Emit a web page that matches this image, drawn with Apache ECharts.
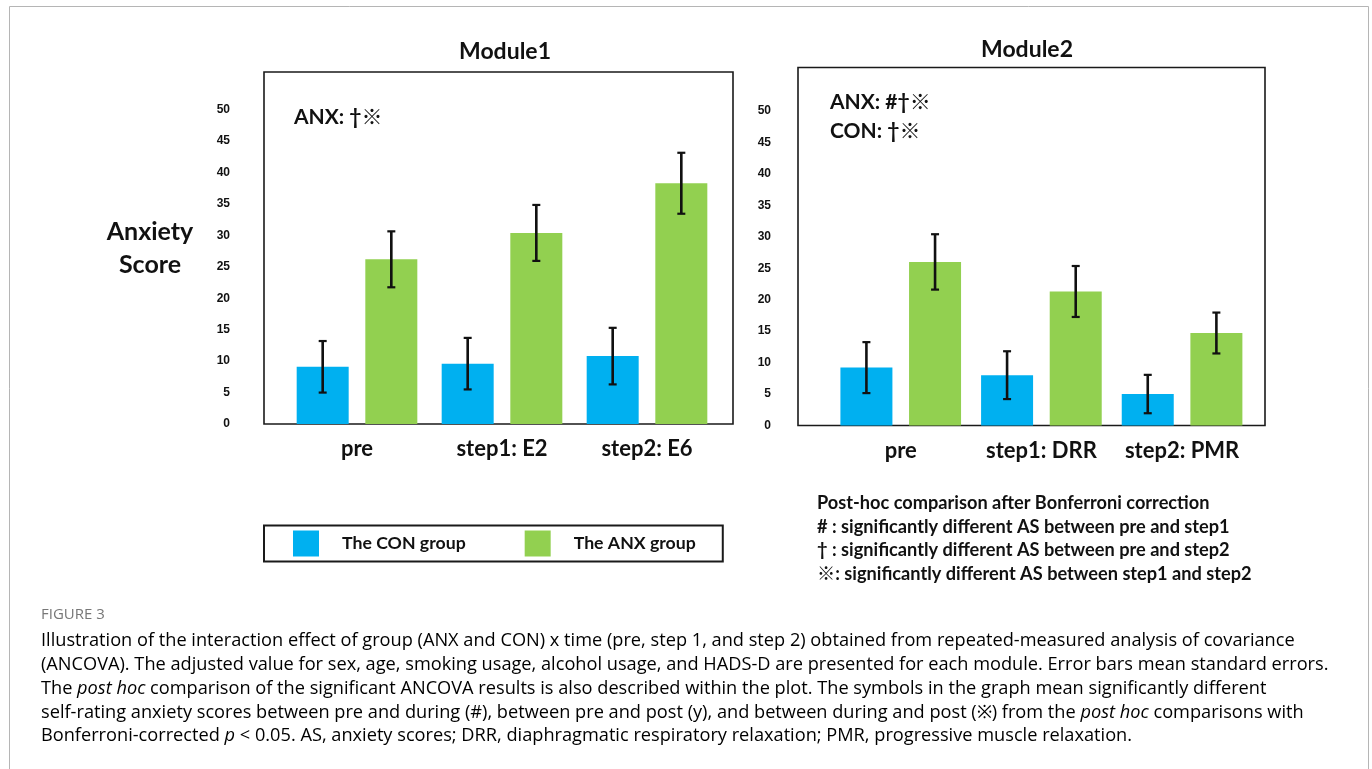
<!DOCTYPE html>
<html>
<head>
<meta charset="utf-8">
<script src="https://cdn.jsdelivr.net/npm/echarts@6/dist/echarts.min.js"></script>
<style>
  html, body { margin: 0; padding: 0; background: #fff; }
  #chart { width: 1372px; height: 769px; }
</style>
</head>
<body>
<div id="chart"></div>
<script>
// ---------- data ----------
const groupNames = ['The CON group', 'The ANX group'];
const module1Categories = ['pre', 'step1: E2', 'step2: E6'];
const module2Categories = ['pre', 'step1: DRR', 'step2: PMR'];

const m1ConMean = [9.1, 9.6, 10.8];
const m1ConSE   = [4.1, 4.1, 4.5];
const m1AnxMean = [26.2, 30.4, 38.3];
const m1AnxSE   = [4.45, 4.45, 4.85];

const m2ConMean = [9.2, 8.0, 5.0];
const m2ConSE   = [4.05, 3.8, 3.05];
const m2AnxMean = [26.0, 21.3, 14.7];
const m2AnxSE   = [4.4, 4.05, 3.25];

const yTicksShownMax = 50;
const module1Title = 'Module1';
const module2Title = 'Module2';
const m1Notes = ['ANX: \u2020\u203B'];
const m2Notes = ['ANX: #\u2020\u203B', 'CON: \u2020\u203B'];
const postHocLines = [
  'Post-hoc comparison after Bonferroni correction',
  '# : significantly different AS between pre and step1',
  '\u2020 : significantly different AS between pre and step2',
  '\u203B: significantly different AS between step1 and step2'
];

// ---------- styles ----------
const CON_COLOR = '#00B0F0';
const ANX_COLOR = '#92D050';
const BAR_W = 52;
const BAR_GAP = 0.32;
const OFFSET = BAR_W * (1 + BAR_GAP) / 2;
const FONT = 'Lato, "Noto Sans CJK JP", sans-serif';

function errData(mean, se) {
  return mean.map((m, i) => [i, +(m - se[i]).toFixed(2), +(m + se[i]).toFixed(2)]);
}

function errRender(offset) {
  return function (params, api) {
    const i = api.value(0);
    const lo = api.coord([i, api.value(1)]);
    const hi = api.coord([i, api.value(2)]);
    const cx = lo[0] + offset;
    const cap = 4;
    return {
      type: 'group',
      children: [
        { type: 'line', shape: { x1: cx, y1: hi[1], x2: cx, y2: lo[1] }, style: { stroke: '#111', lineWidth: 2.6 } },
        { type: 'line', shape: { x1: cx - cap, y1: hi[1], x2: cx + cap, y2: hi[1] }, style: { stroke: '#111', lineWidth: 2.2 } },
        { type: 'line', shape: { x1: cx - cap, y1: lo[1], x2: cx + cap, y2: lo[1] }, style: { stroke: '#111', lineWidth: 2.2 } }
      ]
    };
  };
}

function valueAxis(gridIndex, max, margin, show) {
  return {
    type: 'value', gridIndex, min: 0, max, interval: 5, show,
    axisLine: { show: false }, axisTick: { show: false }, splitLine: { show: false },
    axisLabel: {
      show, margin, color: '#111', fontFamily: '"Liberation Sans", Arial, sans-serif',
      fontWeight: 'bold', fontSize: 12,
      formatter: v => (v <= yTicksShownMax ? String(v) : '')
    }
  };
}

function catAxis(gridIndex, data, show) {
  return {
    type: 'category', gridIndex, data, show,
    axisLine: { show: false }, axisTick: { show: false },
    axisLabel: { show, interval: 0, hideOverlap: false, margin: 14, color: '#111', fontFamily: FONT, fontWeight: 'bold', fontSize: 22 }
  };
}

const chart = echarts.init(document.getElementById('chart'), null, { renderer: 'canvas' });

const CAP_FS = 18.2;
const captionRich = {
  n: { fontFamily: '"Open Sans", sans-serif', fontSize: CAP_FS, color: '#666' },
  i: { fontFamily: '"Open Sans", sans-serif', fontSize: CAP_FS, color: '#666', fontStyle: 'italic' }
};
const captionLines = [
  '{n|Illustration of the interaction effect of group (ANX and CON) x time (pre, step 1, and step 2) obtained from repeated-measured analysis of covariance}',
  '{n|(ANCOVA). The adjusted value for sex, age, smoking usage, alcohol usage, and HADS-D are presented for each module. Error bars mean standard errors.}',
  '{n|The }{i|post hoc}{n| comparison of the significant ANCOVA results is also described within the plot. The symbols in the graph mean significantly different}',
  '{n|self-rating anxiety scores between pre and during (#), between pre and post (y), and between during and post (\u203B) from the }{i|post hoc}{n| comparisons with}',
  '{n|Bonferroni-corrected }{i|p}{n| < 0.05. AS, anxiety scores; DRR, diaphragmatic respiratory relaxation; PMR, progressive muscle relaxation.}'
];

const graphics = [
  { type: 'rect', shape: { x: 9.5, y: 6.5, width: 1359, height: 900 }, style: { fill: 'none', stroke: '#b5b5b5', lineWidth: 1 }, z: -10 },
  { type: 'text', x: 505, y: 52, style: { text: module1Title, font: 'bold 23px ' + FONT, fill: '#111', textAlign: 'center', textVerticalAlign: 'middle' } },
  { type: 'text', x: 1027, y: 50, style: { text: module2Title, font: 'bold 23px ' + FONT, fill: '#111', textAlign: 'center', textVerticalAlign: 'middle' } },
  { type: 'text', x: 150, y: 232, style: { text: 'Anxiety', font: 'bold 25px ' + FONT, fill: '#111', textAlign: 'center', textVerticalAlign: 'middle' } },
  { type: 'text', x: 150, y: 265, style: { text: 'Score', font: 'bold 25px ' + FONT, fill: '#111', textAlign: 'center', textVerticalAlign: 'middle' } },
  { type: 'text', x: 294, y: 117, style: { text: m1Notes[0], font: 'bold 21px ' + FONT, fill: '#111', textAlign: 'left', textVerticalAlign: 'middle' } },
  { type: 'text', x: 830, y: 102, style: { text: m2Notes[0], font: 'bold 21px ' + FONT, fill: '#111', textAlign: 'left', textVerticalAlign: 'middle' } },
  { type: 'text', x: 830, y: 131, style: { text: m2Notes[1], font: 'bold 21px ' + FONT, fill: '#111', textAlign: 'left', textVerticalAlign: 'middle' } },
  { type: 'text', x: 41, y: 615, style: { text: 'FIGURE 3', font: '15px "Open Sans", sans-serif', fill: '#777', textAlign: 'left', textVerticalAlign: 'middle' } }
];
postHocLines.forEach((t, k) => {
  graphics.push({ type: 'text', x: 817, y: 503 + k * 23.7,
    style: { text: t, font: 'bold 18.2px ' + FONT, fill: '#111', textAlign: 'left', textVerticalAlign: 'middle' } });
});
captionLines.forEach((t, k) => {
  graphics.push({ type: 'text', x: 41, y: 641 + k * 23.8,
    style: { text: t, rich: captionRich, textAlign: 'left', textVerticalAlign: 'middle' } });
});

const option = {
  animation: false,
  backgroundColor: '#fff',
  grid: [
    { left: 264, top: 72, width: 469, height: 352, show: true, borderColor: '#1a1a1a', borderWidth: 1.6, backgroundColor: 'transparent' },
    { left: 284.5, top: 72, width: 435, height: 352 },
    { left: 798, top: 67.5, width: 467, height: 358, show: true, borderColor: '#1a1a1a', borderWidth: 1.6, backgroundColor: 'transparent' },
    { left: 830.4, top: 67.5, width: 422, height: 358 }
  ],
  xAxis: [
    catAxis(0, module1Categories, false),
    catAxis(1, module1Categories, true),
    catAxis(2, module2Categories, false),
    catAxis(3, module2Categories, true)
  ],
  yAxis: [
    valueAxis(0, 56, 34, false),
    valueAxis(1, 56, 54.5, true),
    valueAxis(2, 56.9, 27, false),
    valueAxis(3, 56.9, 59.4, true)
  ],
  legend: {
    left: 264, top: 525.5,
    data: groupNames,
    icon: 'rect', itemWidth: 26, itemHeight: 26, itemGap: 59,
    padding: [5, 27, 5, 29],
    borderColor: '#1a1a1a', borderWidth: 2,
    textStyle: { fontFamily: FONT, fontWeight: 'bold', fontSize: 17.7, color: '#111', padding: [0, 0, 0, 18] }
  },
  graphic: graphics,
  series: [
    { name: groupNames[0], type: 'bar', xAxisIndex: 1, yAxisIndex: 1, data: m1ConMean, barWidth: BAR_W, barGap: (BAR_GAP * 100) + '%', itemStyle: { color: CON_COLOR } },
    { name: groupNames[1], type: 'bar', xAxisIndex: 1, yAxisIndex: 1, data: m1AnxMean, barWidth: BAR_W, barGap: (BAR_GAP * 100) + '%', itemStyle: { color: ANX_COLOR } },
    { name: groupNames[0], type: 'bar', xAxisIndex: 3, yAxisIndex: 3, data: m2ConMean, barWidth: BAR_W, barGap: (BAR_GAP * 100) + '%', itemStyle: { color: CON_COLOR } },
    { name: groupNames[1], type: 'bar', xAxisIndex: 3, yAxisIndex: 3, data: m2AnxMean, barWidth: BAR_W, barGap: (BAR_GAP * 100) + '%', itemStyle: { color: ANX_COLOR } },
    { type: 'custom', xAxisIndex: 1, yAxisIndex: 1, z: 5, renderItem: errRender(-OFFSET), data: errData(m1ConMean, m1ConSE), encode: { x: 0, y: [1, 2] } },
    { type: 'custom', xAxisIndex: 1, yAxisIndex: 1, z: 5, renderItem: errRender(OFFSET), data: errData(m1AnxMean, m1AnxSE), encode: { x: 0, y: [1, 2] } },
    { type: 'custom', xAxisIndex: 3, yAxisIndex: 3, z: 5, renderItem: errRender(-OFFSET), data: errData(m2ConMean, m2ConSE), encode: { x: 0, y: [1, 2] } },
    { type: 'custom', xAxisIndex: 3, yAxisIndex: 3, z: 5, renderItem: errRender(OFFSET), data: errData(m2AnxMean, m2AnxSE), encode: { x: 0, y: [1, 2] } }
  ]
};
chart.setOption(option);
</script>
</body>
</html>
